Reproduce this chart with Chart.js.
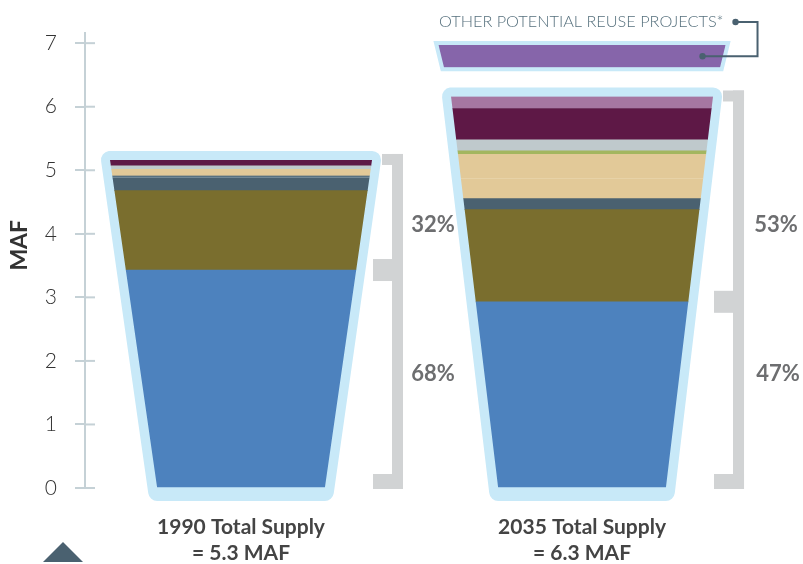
<!DOCTYPE html>
<html>
<head>
<meta charset="utf-8">
<script src="https://cdn.jsdelivr.net/npm/chart.js@4.4.1/dist/chart.umd.min.js"></script>
<style>
  html, body { margin: 0; padding: 0; background: #fff; }
  #wrap { width: 803px; height: 564px; }
</style>
</head>
<body>
<div id="wrap"><canvas id="supply"></canvas></div>
<script>
const years = ['1990', '2035'];
const supplyLabels = [['1990 Total Supply', '= 5.3 MAF'], ['2035 Total Supply', '= 6.3 MAF']];
const yTicks = [0, 1, 2, 3, 4, 5, 6, 7];

// MAF per layer, bottom to top, [1990, 2035]
const blueLayer   = [3.43, 2.93];
const oliveLayer  = [1.25, 1.45];
const slateLayer  = [0.195, 0.173];
const slate2Layer = [0.041, 0];
const tanLayer    = [0.10, 0.308];
const tan2Layer   = [0, 0.393];
const greenLayer  = [0, 0.053];
const grayLayer   = [0.052, 0.173];
const maroonLayer = [0.094, 0.492];
const mauveLayer  = [0, 0.189];
const otherReuse  = [null, [6.62, 6.97]];

const pctUpper = ['32%', '53%'];
const pctLower = ['68%', '47%'];
const lidNote = 'OTHER POTENTIAL REUSE PROJECTS*';
const yTitle = 'MAF';

const rim = '#c8e9f8';
const slate = '#4a6170';

function points(arr) {
  return arr.map((v, i) => ({x: i + 1, y: v})).filter(p => p.y);
}

function layer(label, arr, color, sep) {
  const ds = {label, data: points(arr), backgroundColor: color, stack: 'cup', barThickness: 262, borderWidth: 0};
  if (sep) {
    ds.borderWidth = {top: 0, left: 0, right: 0, bottom: 1};
    ds.borderColor = sep;
    ds.borderSkipped = false;
  }
  return ds;
}

const datasets = [
  layer('blue', blueLayer, '#4d82be'),
  layer('olive', oliveLayer, '#7a6e2e'),
  layer('slate', slateLayer, '#4a6170'),
  layer('slate 2', slate2Layer, '#587180', '#8da0aa'),
  layer('tan', tanLayer, '#e2c998'),
  layer('tan 2', tan2Layer, '#e2c998', '#f0e0c0'),
  layer('green', greenLayer, '#a3b65f'),
  layer('gray', grayLayer, '#bfc9cc'),
  layer('maroon', maroonLayer, '#5e1846'),
  layer('mauve', mauveLayer, '#a677a2'),
  {label: 'Other potential reuse projects', data: points(otherReuse), backgroundColor: '#8665aa',
   stack: 'lid', barThickness: 287, borderWidth: 0}
];

function cupShapes(chart) {
  const y0 = chart.scales.y.getPixelForValue(0);
  const shapes = [];
  years.forEach((yr, i) => {
    let top = y0, cx = 0, half = 0;
    chart.data.datasets.forEach((ds, d) => {
      if (ds.stack !== 'cup') return;
      chart.getDatasetMeta(d).data.forEach((el, k) => {
        if (ds.data[k].x !== i + 1) return;
        top = Math.min(top, el.y);
        cx = el.x;
        half = el.width / 2;
      });
    });
    shapes.push({i, cx, top, bottom: y0, halfTop: half, halfBottom: half * 0.64});
  });
  chart.data.datasets.forEach((ds, d) => {
    if (ds.stack !== 'lid') return;
    chart.getDatasetMeta(d).data.forEach(el => {
      const h = el.width / 2;
      shapes.push({lid: true, cx: el.x, top: Math.min(el.y, el.base), bottom: Math.max(el.y, el.base),
        halfTop: h, halfBottom: h * 0.962});
    });
  });
  return shapes;
}

function trap(ctx, s, ext) {
  ctx.moveTo(s.cx - s.halfTop, s.top);
  ctx.lineTo(s.cx + s.halfTop, s.top);
  ctx.lineTo(s.cx + s.halfBottom, s.bottom + ext);
  ctx.lineTo(s.cx - s.halfBottom, s.bottom + ext);
  ctx.closePath();
}

const cupPlugin = {
  id: 'cups',
  beforeDatasetsDraw(chart) {
    const ctx = chart.ctx;
    const shapes = cupShapes(chart);
    ctx.save();
    ctx.fillStyle = rim;
    ctx.strokeStyle = rim;
    shapes.forEach(s => {
      ctx.beginPath();
      ctx.lineJoin = s.lid ? 'miter' : 'round';
      ctx.lineWidth = s.lid ? 8 : 18;
      trap(ctx, s, s.lid ? 0 : 4);
      ctx.fill();
      ctx.stroke();
    });
    ctx.restore();
    // bars only show inside the cups
    ctx.save();
    ctx.beginPath();
    shapes.forEach(s => trap(ctx, s, 0));
    ctx.clip();
  },
  afterDatasetsDraw(chart) {
    chart.ctx.restore();
  },
  afterDraw(chart) {
    const ctx = chart.ctx;
    const yScale = chart.scales.y;
    const left = chart.chartArea.left;
    const y0 = yScale.getPixelForValue(0);
    ctx.save();

    // right half of the axis tick marks
    ctx.strokeStyle = '#c5d1d6';
    ctx.lineWidth = 2;
    yTicks.forEach(v => {
      const y = yScale.getPixelForValue(v);
      ctx.beginPath();
      ctx.moveTo(left, y);
      ctx.lineTo(left + 10, y);
      ctx.stroke();
    });

    // axis title, sitting a little above the middle of the axis
    ctx.save();
    ctx.translate(20, yScale.getPixelForValue(3.82));
    ctx.rotate(-Math.PI / 2);
    ctx.fillStyle = '#333';
    ctx.font = 'bold 23px Lato, "Open Sans", sans-serif';
    ctx.textAlign = 'center';
    ctx.textBaseline = 'middle';
    ctx.fillText(yTitle, 0, 0);
    ctx.restore();

    const shapes = cupShapes(chart);
    shapes.filter(s => !s.lid).forEach(s => {
      const bx = s.cx + 151;
      const top = s.top - 6;
      const mid = yScale.getPixelForValue(blueLayer[s.i]);
      ctx.fillStyle = '#d1d3d4';
      ctx.fillRect(bx, top, 11, y0 + 1 - top);
      ctx.fillRect(s.cx + 141, top, 21, 11);
      ctx.fillRect(s.cx + 132, y0 - 14, 30, 15);
      ctx.fillRect(s.cx + 132, mid - 11, 20, 22);

      ctx.fillStyle = '#6d6e70';
      ctx.font = 'bold 22px Lato, "Open Sans", sans-serif';
      ctx.textAlign = 'center';
      ctx.textBaseline = 'middle';
      ctx.fillText(pctUpper[s.i], s.cx + 192 + s.i * 2, yScale.getPixelForValue(4.14));
      ctx.fillText(pctLower[s.i], s.cx + 192 + s.i * 4, yScale.getPixelForValue(1.79));
    });

    shapes.filter(s => s.lid).forEach(s => {
      const right = s.cx + s.halfTop;
      const ty = s.top - 23;
      const my = (s.top + s.bottom) / 2;
      ctx.fillStyle = '#56707d';
      ctx.font = '300 16.3px Lato, "Open Sans", sans-serif';
      ctx.textAlign = 'right';
      ctx.textBaseline = 'middle';
      ctx.fillText(lidNote, right - 2, ty);

      ctx.strokeStyle = slate;
      ctx.fillStyle = slate;
      ctx.lineWidth = 2;
      ctx.beginPath();
      ctx.moveTo(right + 10, ty);
      ctx.lineTo(right + 32, ty);
      ctx.lineTo(right + 32, my);
      ctx.lineTo(right - 23, my);
      ctx.stroke();
      [[right + 10, ty], [right - 23, my]].forEach(([x, y]) => {
        ctx.beginPath();
        ctx.arc(x, y, 3.2, 0, Math.PI * 2);
        ctx.fill();
      });
    });

    // page marker
    ctx.fillStyle = slate;
    ctx.beginPath();
    ctx.moveTo(43, 562);
    ctx.lineTo(83, 562);
    ctx.lineTo(63, 542);
    ctx.closePath();
    ctx.fill();
    ctx.restore();
  }
};

new Chart(document.getElementById('supply'), {
  type: 'bar',
  data: {datasets},
  options: {
    responsive: true,
    maintainAspectRatio: false,
    animation: false,
    grouped: false,
    layout: {padding: {top: 33, left: 5, right: 0, bottom: 0}},
    plugins: {legend: {display: false}, tooltip: {enabled: false}},
    scales: {
      x: {
        type: 'linear',
        stacked: true,
        offset: false,
        min: 0.5425,
        max: 2.648,
        grid: {display: false, drawTicks: false},
        border: {display: false},
        afterBuildTicks: s => { s.ticks = years.map((yr, i) => ({value: i + 1})); },
        afterFit: s => { s.height = 76; },
        ticks: {
          autoSkip: false,
          maxRotation: 0,
          padding: 26,
          color: '#444',
          font: {family: 'Lato, "Open Sans", sans-serif', size: 21, weight: 'bold', lineHeight: 1.25},
          callback: v => supplyLabels[v - 1]
        }
      },
      y: {
        stacked: true,
        min: 0,
        max: 7.16,
        afterBuildTicks: s => { s.ticks = yTicks.map(v => ({value: v})); },
        afterFit: s => { s.width = 80; },
        grid: {drawOnChartArea: false, drawTicks: true, tickLength: 10, color: '#c5d1d6', lineWidth: 2},
        border: {display: true, color: '#c5d1d6', width: 2},
        ticks: {
          padding: 18,
          color: '#333',
          font: {family: 'Lato, "Open Sans", sans-serif', size: 21, weight: '300'}
        }
      }
    }
  },
  plugins: [cupPlugin]
});
</script>
</body>
</html>
